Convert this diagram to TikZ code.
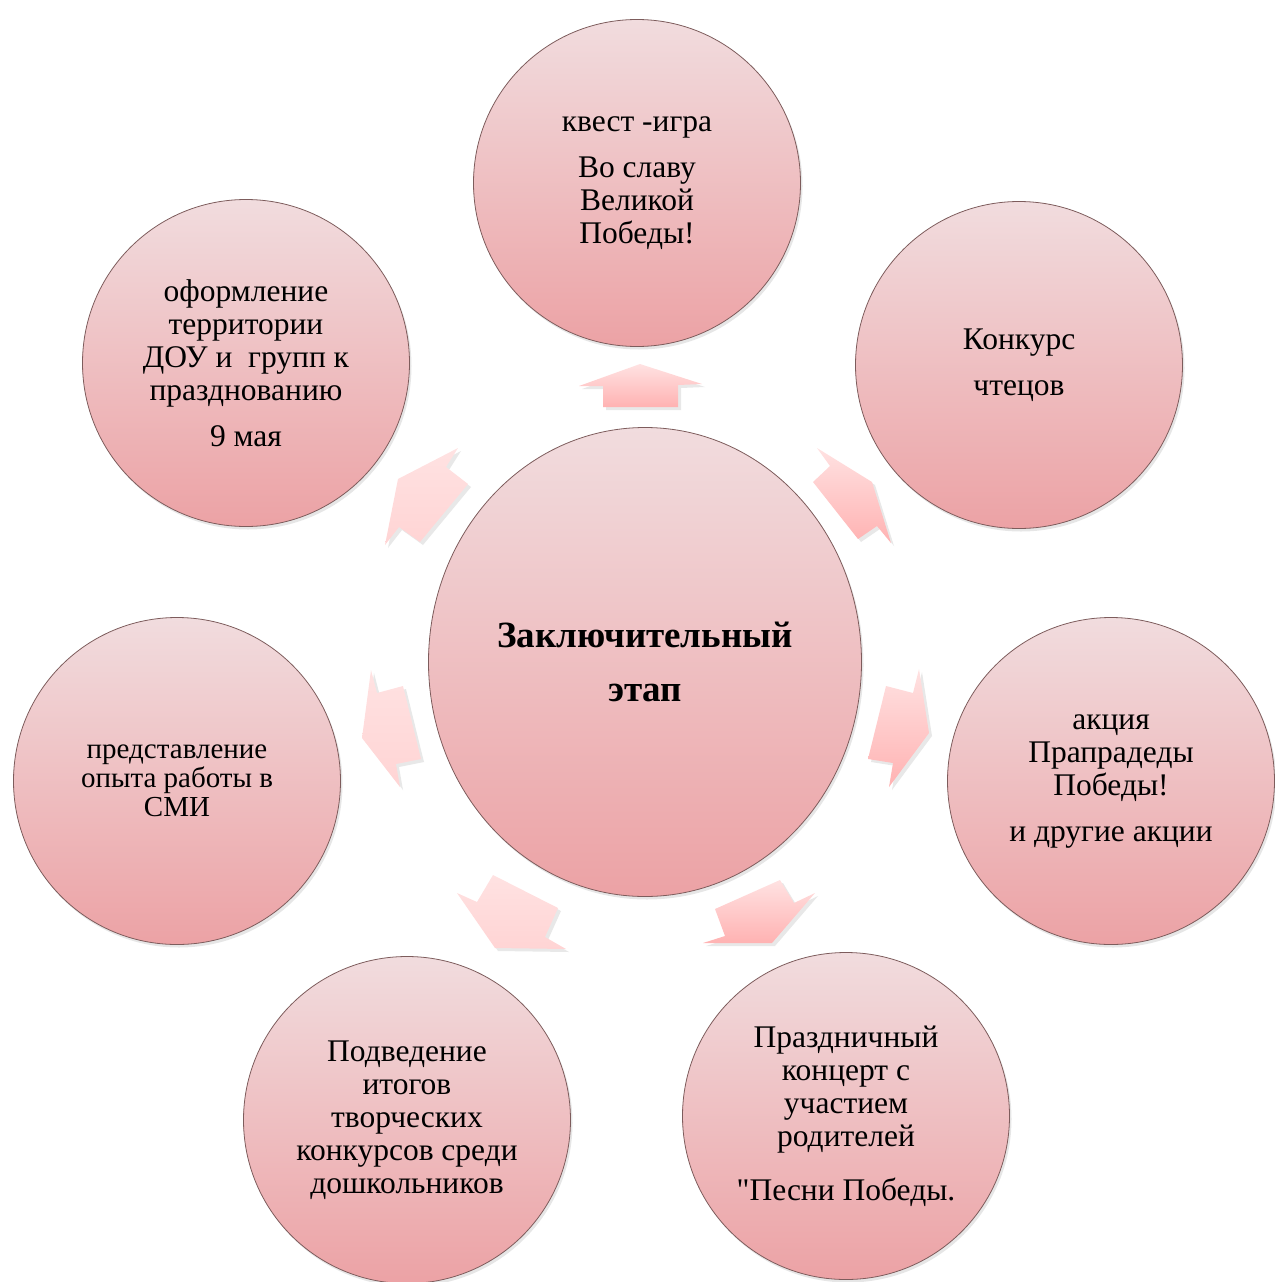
\documentclass[tikz,border=0pt]{standalone}
\usepackage{fontspec}
\setmainfont{Liberation Serif}[Ligatures=TeXOff]
\usetikzlibrary{shapes.geometric}
\usetikzlibrary{shadows}
\definecolor{circtop}{RGB}{241,220,222}
\definecolor{circbot}{RGB}{236,162,165}
\definecolor{circline}{RGB}{125,92,92}
\definecolor{arrtop}{RGB}{255,226,226}
\definecolor{arrbot}{RGB}{255,178,178}
\definecolor{arrpale}{RGB}{255,212,212}

\begin{document}
\begin{tikzpicture}[x=1pt,y=-1pt]
  \tikzset{CircleStyle/.style = {
    shape         = circle,
    draw          = circline,
    line width    = 0.8pt,
    top color     = circtop,
    bottom color  = circbot,
    text          = black,
    align         = center,
    inner sep     = 0pt,
    minimum size  = 327pt,
    drop shadow   = {opacity=0.2, shadow xshift=2pt, shadow yshift=-3pt},
    font          = \fontsize{31.5}{33}\selectfont
    }
  }
  \tikzset{CenterStyle/.style = {
    CircleStyle,
    shape          = ellipse,
    minimum width  = 433pt,
    minimum height = 469pt,
    font           = \fontsize{37}{54}\selectfont\bfseries
    }
  }
  \tikzset{ArrowStyle/.style = {
    top color     = arrtop,
    bottom color  = #1,
    drop shadow   = {opacity=0.18, shadow xshift=3pt, shadow yshift=-3pt}
    },
    ArrowStyle/.default = arrbot
  }
  \useasboundingbox (0,0) rectangle (1274,1282);

	\node[CenterStyle](Z) at (645,662) {Заключительный\\ этап};
	\node[CircleStyle](S1) at (637,183) {квест -игра\\[13pt] Во славу\\ Великой\\ Победы!};
	\node[CircleStyle](S2) at (1019,365) {Конкурс\\[13pt] чтецов};
	\node[CircleStyle](S3) at (1111,781) {акция\\ Прапрадеды\\ Победы!\\[13pt] и другие акции};
	\node[CircleStyle](S4) at (846,1116) {Праздничный\\ концерт с\\ участием\\ родителей\\[21pt] "Песни Победы.};
	\node[CircleStyle](S5) at (407,1120) {Подведение\\ итогов\\ творческих\\ конкурсов среди\\ дошкольников};
	\node[CircleStyle, font=\fontsize{29}{29}\selectfont](S6) at (177,781) {представление\\ опыта работы в\\ СМИ};
	\node[CircleStyle](S7) at (246,363) {оформление\\ территории\\ ДОУ и~~групп к\\ празднованию\\[13pt] 9 мая};

	% block arrows, Z -> S1 ... S7
	\path[ArrowStyle] (640,364) -- (702,384) -- (678,385) -- (678,407) -- (603,407) -- (603,386) -- (579,386) -- cycle;
	\path[ArrowStyle] (817,448) -- (830,466) -- (813,482) -- (858,539) -- (877,526) -- (891,543) -- (872,482) -- cycle;
	\path[ArrowStyle] (919,669) -- (913,693) -- (886,686) -- (868,759) -- (893,763) -- (889,787) -- (929,733) -- cycle;
	\path[ArrowStyle] (815,893) -- (794,903) -- (780,880) -- (715,909) -- (725,936) -- (703,943) -- (772,943) -- cycle;
	\path[ArrowStyle=arrpale] (457,893) -- (477,902) -- (493,875) -- (558,908) -- (545,937) -- (566,949) -- (495,948) -- cycle;
	\path[ArrowStyle=arrpale] (371,670) -- (377,693) -- (403,686) -- (421,759) -- (396,764) -- (400,787) -- (362,738) -- cycle;
	\path[ArrowStyle=arrpale] (458,448) -- (446,467) -- (468,484) -- (420,542) -- (399,527) -- (385,545) -- (398,479) -- cycle;
\end{tikzpicture}
\end{document}
